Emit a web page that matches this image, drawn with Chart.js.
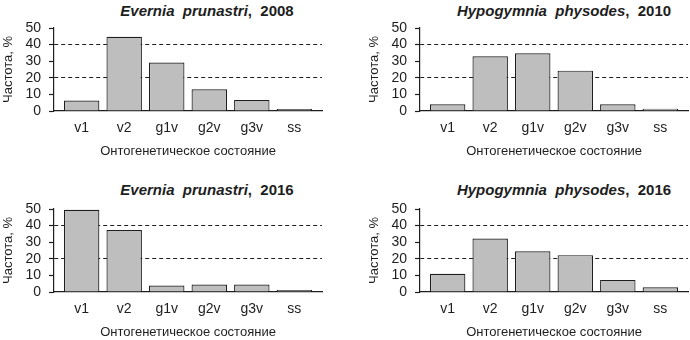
<!DOCTYPE html>
<html>
<head>
<meta charset="utf-8">
<script src="https://cdn.jsdelivr.net/npm/chart.js@4"></script>
<style>
    html, body { margin: 0; padding: 0; background: #fff; overflow: hidden; }
    #wrap { position: relative; width: 690px; height: 340px; }
    canvas { position: absolute; }
    .ttl {
        position: absolute;
        transform: translate(-50%, -50%);
        font: bold 15px "Liberation Sans", Arial, sans-serif;
        color: #1e1e1e;
        white-space: pre;
    }
</style>
</head>
<body>
<div id="wrap">
    <div class="ttl" style="left:207px; top:10px"><i>Evernia  prunastri</i>,  2008</div>
    <div class="ttl" style="left:564px; top:10px"><i>Hypogymnia  physodes</i>,  2010</div>
    <div class="ttl" style="left:207px; top:189px"><i>Evernia  prunastri</i>,  2016</div>
    <div class="ttl" style="left:564px; top:189px"><i>Hypogymnia  physodes</i>,  2016</div>

    <canvas id="c1" width="345" height="162" style="left:0; top:0"></canvas>
    <canvas id="c2" width="345" height="162" style="left:345px; top:0"></canvas>
    <canvas id="c3" width="345" height="162" style="left:0; top:181px"></canvas>
    <canvas id="c4" width="345" height="162" style="left:345px; top:181px"></canvas>
</div>

<script>
/* ---------- DATA ---------- */
const stages = ["v1", "v2", "g1v", "g2v", "g3v", "ss"];
const yTicks = [0, 10, 20, 30, 40, 50];
const dashedAt = [20, 40];

const evernia2008    = [6.3, 44.7, 29.2, 13.1, 6.7, 0.7];
const hypogymnia2010 = [4.1, 33.0, 34.8, 24.3, 4.1, 1.4];
const evernia2016    = [49.5, 37.3, 3.9, 4.5, 4.5, 0.7];
const hypogymnia2016 = [11.0, 32.2, 24.5, 22.2, 7.3, 2.9];

const yTitle = "Частота, %";
const xTitle = "Онтогенетическое состояние";

/* ---------- STYLE ---------- */
const FONT = "'Liberation Sans', Arial, sans-serif";
const INK = "#1e1e1e";
const BAR = "#bebebe";

function makeChart(id, values, padLeft, padRight) {
    new Chart(document.getElementById(id), {
        type: "bar",
        data: {
            datasets: [{
                data: values.map((v, i) => ({ x: i, y: v })),
                backgroundColor: BAR,
                borderColor: INK,
                borderWidth: 1.2,
                minBarLength: 2,
                barPercentage: 1,
                categoryPercentage: 1 / 1.2
            }]
        },
        options: {
            responsive: false,
            animation: false,
            layout: {
                padding: { top: 28, left: padLeft, right: padRight, bottom: 0 }
            },
            plugins: {
                legend: { display: false },
                tooltip: { enabled: false }
            },
            scales: {
                x: {
                    type: "linear",
                    offset: false,
                    min: -0.65,
                    max: 5.65,
                    afterBuildTicks: s => { s.ticks = stages.map((_, i) => ({ value: i })); },
                    afterFit: s => { s.height = 51; },
                    grid: { display: false, drawTicks: false },
                    border: { display: true, color: INK, width: 1.2 },
                    ticks: {
                        autoSkip: false,
                        maxRotation: 0,
                        padding: 9,
                        color: INK,
                        font: { family: FONT, size: 14 },
                        callback: v => stages[v]
                    },
                    title: {
                        display: true,
                        text: xTitle,
                        color: INK,
                        font: { family: FONT, size: 13 },
                        padding: { top: 0, bottom: 3 }
                    }
                },
                y: {
                    min: 0,
                    max: 50,
                    afterBuildTicks: s => { s.ticks = yTicks.map(v => ({ value: v })); },
                    afterFit: s => { s.width = 54; },
                    grid: {
                        color: ctx => dashedAt.includes(ctx.tick && ctx.tick.value) ? INK : "rgba(0,0,0,0)",
                        lineWidth: 1,
                        tickColor: INK,
                        tickLength: 5,
                        tickWidth: 1.2
                    },
                    border: { display: true, color: INK, width: 1.2, dash: [4, 3] },
                    ticks: {
                        autoSkip: false,
                        padding: 8,
                        color: INK,
                        font: { family: FONT, size: 14 }
                    },
                    title: {
                        display: true,
                        text: yTitle,
                        color: INK,
                        font: { family: FONT, size: 13 },
                        padding: { top: 1, bottom: 0 }
                    }
                }
            }
        }
    });
}

makeChart("c1", evernia2008, 0, 23);
makeChart("c2", hypogymnia2010, 21, 2);
makeChart("c3", evernia2016, 0, 23);
makeChart("c4", hypogymnia2016, 21, 2);
</script>
</body>
</html>
